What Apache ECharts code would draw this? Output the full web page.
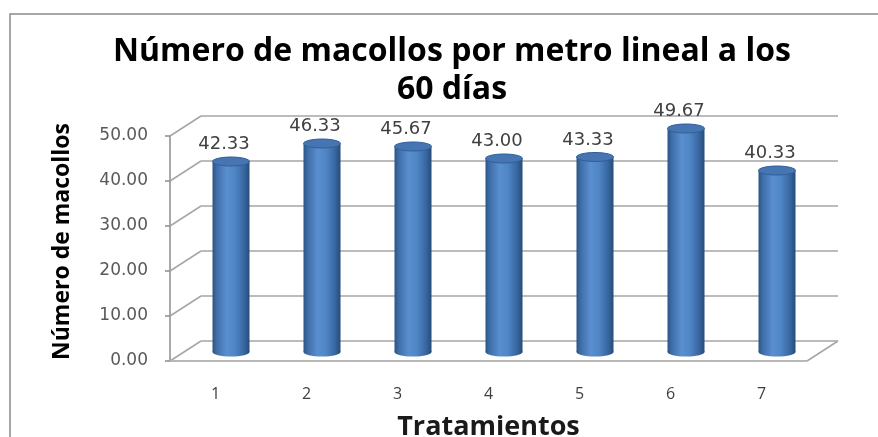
<!DOCTYPE html>
<html>
<head>
<meta charset="utf-8">
<script src="https://cdn.jsdelivr.net/npm/echarts@6/dist/echarts.min.js"></script>
<style>html,body{margin:0;padding:0;background:#fff}#c{width:878px;height:437px}</style>
</head>
<body>
<div id="c"></div>
<script>
const titleText = 'Número de macollos por metro lineal a los\n60 días';
const xName = 'Tratamientos';
const yName = 'Número de macollos';
const categories = ['1', '2', '3', '4', '5', '6', '7'];
const values = [42.33, 46.33, 45.67, 43.00, 43.33, 49.67, 40.33];
const yTicks = [0, 10, 20, 30, 40, 50];

const DX = 31, DY = 20;   // depth offset of the back wall
const BW = 37, RY = 4.5;  // cylinder width and ellipse radius

const chart = echarts.init(document.getElementById('c'));

function frameItem(params, api) {
  const cs = params.coordSys;
  const v = api.value(0);
  const y = api.coord([0, v])[1];
  const x0 = cs.x, x1 = cs.x + cs.width;
  const st = {stroke: '#a6a6a6', lineWidth: 1.5};
  const ch = [
    {type: 'line', shape: {x1: x0, y1: y, x2: x0 + DX, y2: y - DY}, style: st},
    {type: 'line', shape: {x1: x0 + DX, y1: y - DY, x2: x1 + DX, y2: y - DY}, style: st}
  ];
  if (v === 0) {
    ch.push({type: 'line', shape: {x1: x0, y1: y, x2: x1, y2: y}, style: {stroke: '#b8b8b8', lineWidth: 2}});
    ch.push({type: 'line', shape: {x1: x1, y1: y, x2: x1 + DX, y2: y - DY}, style: st});
  }
  return {type: 'group', children: ch};
}

function barItem(params, api) {
  const i = api.value(0), v = api.value(1);
  const p = api.coord([i, v]);
  const b = api.coord([i, 0]);
  const cx = p[0] + DX / 2;
  const ty = p[1] - DY / 2 + 1;
  const by = b[1] - DY / 2 + 1;
  const grad = new echarts.graphic.LinearGradient(0, 0, 1, 0, [
    {offset: 0, color: '#2c5485'},
    {offset: 0.12, color: '#3f6fa9'},
    {offset: 0.38, color: '#5a8ecf'},
    {offset: 0.6, color: '#5086c6'},
    {offset: 0.85, color: '#3867a1'},
    {offset: 1, color: '#274b78'}
  ]);
  return {
    type: 'group',
    children: [
      {type: 'ellipse', shape: {cx: cx, cy: by, rx: BW / 2, ry: RY}, style: {fill: grad}},
      {type: 'rect', shape: {x: cx - BW / 2, y: ty, width: BW, height: by - ty}, style: {fill: grad}},
      {type: 'ellipse', shape: {cx: cx, cy: ty, rx: BW / 2, ry: RY}, style: {fill: '#4675b2', stroke: '#30609a', lineWidth: 1}},
      {type: 'text', style: {x: cx - 7, y: ty - 17, text: v.toFixed(2), align: 'center', verticalAlign: 'middle',
        font: '18px "DejaVu Sans"', fill: '#404040'}}
    ]
  };
}

chart.setOption({
  animation: false,
  title: {
    text: titleText, left: 452, top: 33, padding: 0, textAlign: 'center',
    textStyle: {fontFamily: 'Open Sans', fontWeight: 'bold', fontSize: 32, lineHeight: 38, color: '#000'}
  },
  graphic: [
    {type: 'rect', shape: {x: 10, y: 14, width: 1000, height: 600}, style: {fill: null, stroke: '#8a8a8a', lineWidth: 1.5}, silent: true}
  ],
  grid: {left: 170, top: 136, width: 637, height: 225, containLabel: false, outerBoundsMode: 'none'},
  xAxis: {
    type: 'category', data: categories,
    axisLine: {show: false}, axisTick: {show: false},
    axisLabel: {margin: 25, fontFamily: 'Open Sans', fontSize: 16, color: '#404040'},
    name: xName, nameLocation: 'middle', nameGap: 53,
    nameTextStyle: {fontFamily: 'Open Sans', fontWeight: 'bold', fontSize: 27, color: '#1a1a1a'}
  },
  yAxis: {
    type: 'value', min: 0, max: 50, interval: 10,
    axisLine: {show: true, lineStyle: {color: '#8c8c8c', width: 1.5}},
    axisTick: {show: true, length: 5, lineStyle: {color: '#8c8c8c', width: 1.5}},
    splitLine: {show: false},
    axisLabel: {margin: 22, formatter: v => v.toFixed(2), fontFamily: 'DejaVu Sans', fontSize: 17, color: '#595959'},
    name: yName, nameLocation: 'middle', nameGap: 96, nameRotate: 90,
    nameTextStyle: {fontFamily: 'Open Sans', fontWeight: 'bold', fontSize: 23, color: '#000', padding: [0, 0, 0, 14]}
  },
  series: [
    {type: 'custom', renderItem: frameItem, data: yTicks.map(t => [t]), encode: {y: 0}, clip: false, silent: true, z: 1},
    {type: 'custom', renderItem: barItem, data: values.map((v, i) => [i, v]), encode: {x: 0, y: 1}, clip: false, silent: true, z: 2}
  ]
});
</script>
</body>
</html>
